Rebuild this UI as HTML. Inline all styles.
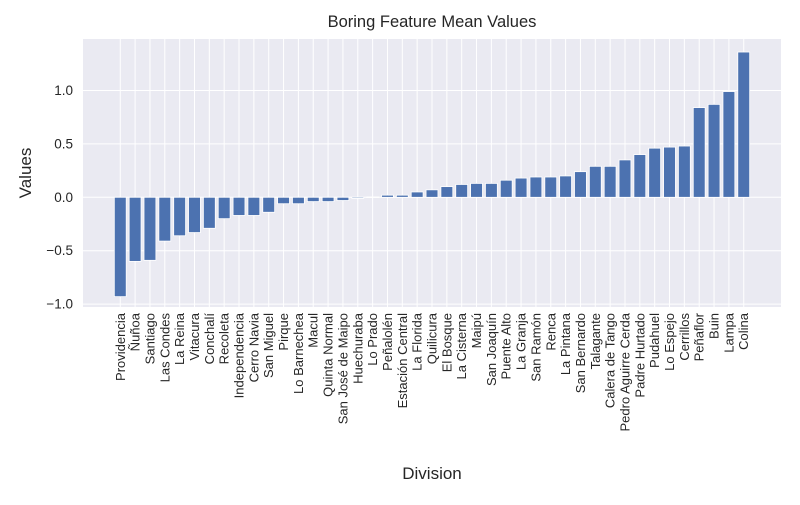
<!DOCTYPE html>
<html><head><meta charset="utf-8"><style>
body{margin:0;background:#fff}
svg{font-family:"Liberation Sans","DejaVu Sans",sans-serif}
</style></head><body>
<svg id="chart" width="800" height="500"></svg>
<script>
const categories=["Providencia","Ñuñoa","Santiago","Las Condes","La Reina","Vitacura","Conchalí","Recoleta","Independencia","Cerro Navia","San Miguel","Pirque","Lo Barnechea","Macul","Quinta Normal","San José de Maipo","Huechuraba","Lo Prado","Peñalolén","Estación Central","La Florida","Quilicura","El Bosque","La Cisterna","Maipú","San Joaquín","Puente Alto","La Granja","San Ramón","Renca","La Pintana","San Bernardo","Talagante","Calera de Tango","Pedro Aguirre Cerda","Padre Hurtado","Pudahuel","Lo Espejo","Cerrillos","Peñaflor","Buin","Lampa","Colina"];
const values=[-0.93,-0.60,-0.59,-0.41,-0.36,-0.33,-0.29,-0.20,-0.17,-0.17,-0.14,-0.06,-0.06,-0.04,-0.04,-0.03,-0.01,0.003,0.02,0.02,0.05,0.07,0.10,0.12,0.13,0.13,0.16,0.18,0.19,0.19,0.20,0.24,0.29,0.29,0.35,0.40,0.46,0.47,0.48,0.84,0.87,0.99,1.36];
const yTicks=[-1.0,-0.5,0.0,0.5,1.0];
const yTickLabels=["−1.0","−0.5","0.0","0.5","1.0"];
const L=83,R=781,T=39,B=307;
const xMin=-2.51,xMax=categories.length-1+2.51,yMin=-1.027,yMax=1.482;
const xs=i=>L+(i-xMin)/(xMax-xMin)*(R-L);
const ys=v=>B-(v-yMin)/(yMax-yMin)*(B-T);
const NS="http://www.w3.org/2000/svg";
const svg=document.getElementById('chart');
function mk(tag,attrs,parent){const e=document.createElementNS(NS,tag);for(const k in attrs)e.setAttribute(k,attrs[k]);(parent||svg).appendChild(e);return e;}
const bg=mk('rect',{x:L,y:T,width:R-L,height:B-T,fill:'#eaeaf2'});


yTicks.forEach((t,i)=>{
  const g=mk('line',{x1:L,x2:R,y1:ys(t),y2:ys(t),stroke:'#fff','stroke-width':1});
  
  
  const tx=mk('text',{x:L-10,y:ys(t)+4.5,'text-anchor':'end','font-size':13.5,fill:'#262626'});
  tx.textContent=yTickLabels[i];
  
  
});
categories.forEach((c,i)=>{
  const g=mk('line',{x1:xs(i),x2:xs(i),y1:T,y2:B,stroke:'#fff','stroke-width':1});
  
  
});
const bw=0.8*(R-L)/(xMax-xMin);
categories.forEach((c,i)=>{
  const v=values[i];
  const y0=ys(0),y1=ys(v);
  const r=mk('rect',{x:xs(i)-bw/2,y:Math.min(y0,y1),width:bw,height:Math.max(Math.abs(y1-y0),0.5),fill:'#4c72b0',stroke:'#fff','stroke-width':0.8});
  
  
  const tx=mk('text',{transform:`translate(${xs(i)+4.5},${B+6}) rotate(-90)`,'text-anchor':'end','font-size':13,fill:'#262626'});
  tx.textContent=c;
  
  
});
const title=mk('text',{x:(L+R)/2,y:27,'text-anchor':'middle','font-size':16.5,fill:'#262626'});
title.textContent='Boring Feature Mean Values';


const xl=mk('text',{x:(L+R)/2,y:479,'text-anchor':'middle','font-size':17,fill:'#262626'});
xl.textContent='Division';


const yl=mk('text',{transform:`translate(31,${(T+B)/2}) rotate(-90)`,'text-anchor':'middle','font-size':17,fill:'#262626'});
yl.textContent='Values';


</script>
</body></html>
